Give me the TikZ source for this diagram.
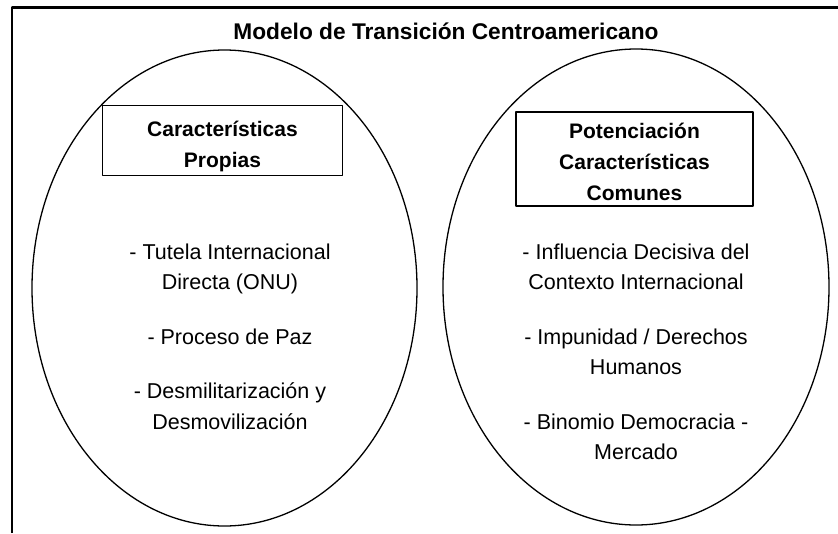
\documentclass[tikz,border=0pt]{standalone}
\usepackage{fontspec}
\setmainfont{Liberation Sans}
\begin{document}
\begin{tikzpicture}[x=1pt,y=-1pt,line join=round,line cap=round,
		txt/.style={align=center,font=\fontsize{21.5}{30.5}\selectfont},
		caja/.style={draw,line width=1.3pt,inner sep=0pt},
		hdr/.style={align=center,font=\bfseries\fontsize{21}{31}\selectfont}]
			\def\ry{238}
			\useasboundingbox (0,0) rectangle (838,533);
			\draw[line width=2.2pt,line cap=butt] (12,533)--(12,7.5)--(838,7.5);
			\node (titulo) at (446,31) [font=\bfseries\fontsize{22.7}{26}\selectfont]{Modelo de Transición Centroamericano};
			\draw[line width=1.3pt] (224.5,288) ellipse [x radius=192.5pt,y radius=\ry pt];
			\draw[line width=1.3pt] (636,287) ellipse [x radius=193pt,y radius=\ry pt];
			\node (cajaI) at (222.5,140.7) [caja,minimum width=239.6pt,minimum height=70pt]{};
			\node (cajaD) at (634.5,159) [caja,minimum width=237pt,minimum height=94pt]{};
			\node (propias) at (222.5,146.5) [hdr]{Características\\Propias};
			\node (comunes) at (634.5,162) [hdr]{Potenciación\\Características\\Comunes};
			\node (izq) at (230,255) [txt,anchor=north,yshift=15pt]{- Tutela Internacional\\Directa (ONU)\\[24pt]- Proceso de Paz\\[24pt]- Desmilitarización y\\Desmovilización};
			\node (der) at (636,255) [txt,anchor=north,yshift=15pt]{- Influencia Decisiva del\\Contexto Internacional\\[24pt]- Impunidad / Derechos\\Humanos\\[24pt]- Binomio Democracia -\\Mercado};
	\end{tikzpicture}
\end{document}
